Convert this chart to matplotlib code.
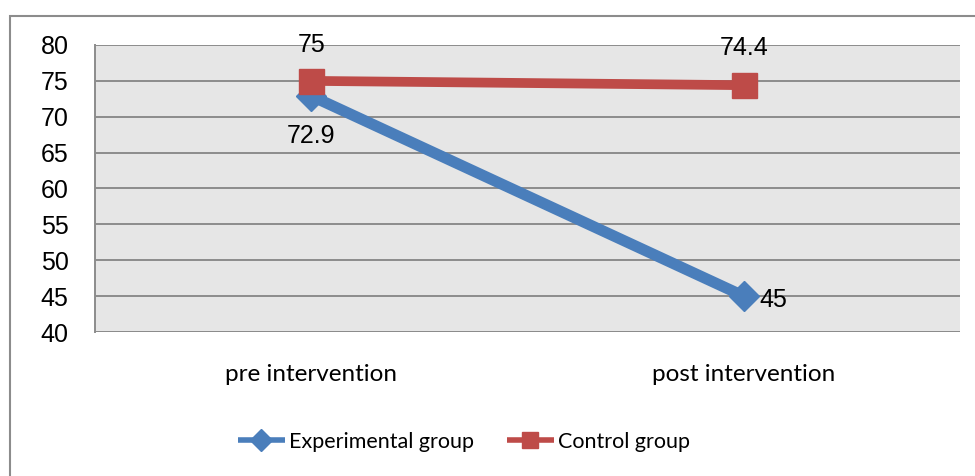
import matplotlib.pyplot as plt
from matplotlib.patches import Rectangle

categories = ["pre intervention", "post intervention"]
experimental = [72.9, 45]
control = [75, 74.4]
yticks = [40, 45, 50, 55, 60, 65, 70, 75, 80]

blue = "#4a7ebb"
red = "#be4b48"

fig = plt.figure(figsize=(9.75, 4.76), dpi=100)
# outer chart border (top and left visible)
fig.patches.append(Rectangle((10 / 975, -0.1), 1.2, (476 - 16) / 476 + 0.1,
                             transform=fig.transFigure, fill=False,
                             edgecolor="#8c8c8c", linewidth=1.5))

ax = fig.add_axes([95 / 975, 1 - 332 / 476, (960 - 95) / 975, (332 - 45) / 476])
ax.set_facecolor("#e6e6e6")
x = range(len(categories))

ax.plot(x, experimental, color=blue, linewidth=8, marker="D", markersize=15,
        label="Experimental group", solid_capstyle="butt")
ax.plot(x, control, color=red, linewidth=7, marker="s", markersize=18,
        label="Control group", solid_capstyle="butt")

ax.set_xlim(-0.5, 1.5)
ax.set_ylim(40, 80)
ax.set_yticks(yticks)
ax.set_xticks(list(x))
ax.set_xticklabels(categories, fontsize=17.5, family="Lato")
ax.tick_params(axis="x", length=0, pad=23)
ax.tick_params(axis="y", length=0, pad=19, labelsize=18)
for lab in ax.get_yticklabels():
    lab.set_family("Liberation Sans")
ax.grid(axis="y", color="#8c8c8c", linewidth=1.4)
ax.set_axisbelow(True)
for s in ["top", "right", "bottom"]:
    ax.spines[s].set_visible(False)
ax.spines["left"].set_color("#8c8c8c")
ax.spines["left"].set_linewidth(1.4)
ax.axhline(40, color="#8c8c8c", linewidth=1.4)

lab_kw = dict(fontsize=18, family="Liberation Sans", color="black")
ax.annotate(f"{control[0]:g}", (0, control[0]), xytext=(0, 26), textcoords="offset points",
            ha="center", va="center", **lab_kw)
ax.annotate(f"{control[1]:g}", (1, control[1]), xytext=(0, 27), textcoords="offset points",
            ha="center", va="center", **lab_kw)
ax.annotate(f"{experimental[0]:g}", (0, experimental[0]), xytext=(0, -29), textcoords="offset points",
            ha="center", va="center", **lab_kw)
ax.annotate(f"{experimental[1]:g}", (1, experimental[1]), xytext=(11, -3), textcoords="offset points",
            ha="left", va="center", **lab_kw)

leg = fig.legend(loc="center", bbox_to_anchor=(464 / 975, 1 - 442 / 476), ncol=2, frameon=False,
                 prop={"family": "Lato", "size": 15.5}, handlelength=2.2, columnspacing=1.5,
                 handletextpad=0.2)
for h in leg.legend_handles:
    h.set_linewidth(4)
    h.set_markersize(11)

fig.savefig("out.png", dpi=100)
